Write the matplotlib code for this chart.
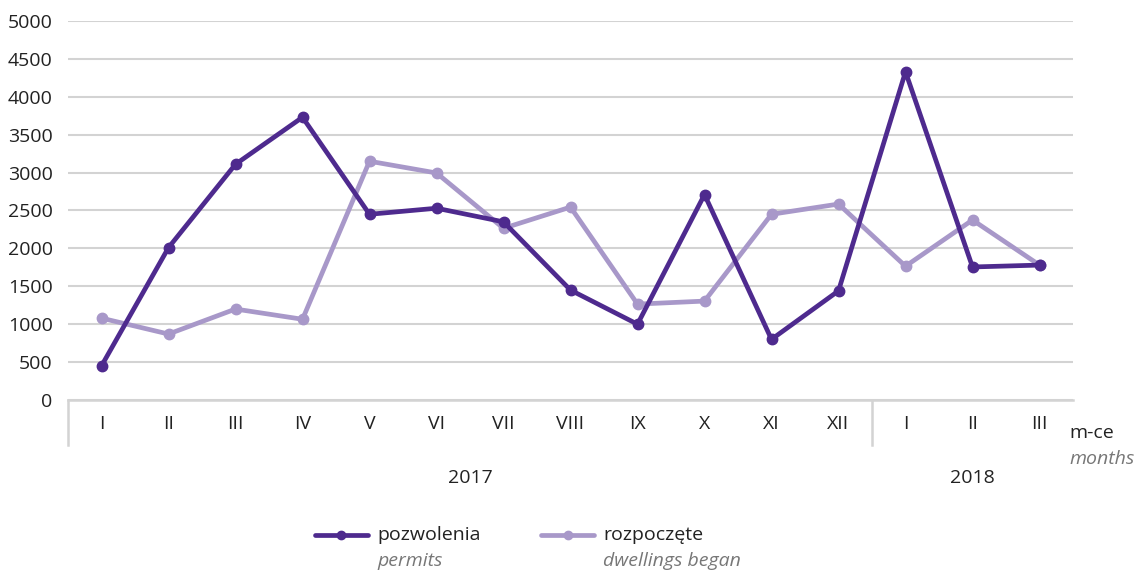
import numpy as np
import matplotlib.pyplot as plt

plt.rcParams['font.family'] = ['Open Sans', 'DejaVu Sans']

months = ['I', 'II', 'III', 'IV', 'V', 'VI', 'VII', 'VIII', 'IX', 'X', 'XI', 'XII',
          'I', 'II', 'III']
years = ['2017', '2018']
year_counts = [12, 3]
permits = [450, 2010, 3110, 3730, 2450, 2530, 2350, 1450, 1000, 2710, 800, 1440,
           4330, 1755, 1780]
began = [1080, 870, 1200, 1065, 3150, 2995, 2265, 2545, 1265, 1305, 2450, 2585,
         1765, 2375, 1780]

dark = '#4E2A8E'
light = '#A898C9'
grid = '#D3D3D3'
fs = 14

fig = plt.figure(figsize=(11.44, 5.72), dpi=100)
ax = fig.add_axes([68 / 1144, 1 - 400 / 572, (1073 - 68) / 1144, (400 - 21) / 572])

x = np.arange(len(months))
ax.plot(x, began, color=light, lw=3.4, marker='o', ms=7.5, zorder=3,
        solid_capstyle='round')
ax.plot(x, permits, color=dark, lw=3.4, marker='o', ms=7.5, zorder=4,
        solid_capstyle='round')

ax.set_xlim(-0.5, len(months) - 0.5)
ax.set_ylim(0, 5000)
ax.set_yticks(range(0, 5001, 500))
ax.yaxis.grid(True, color=grid, lw=1.5)
ax.set_axisbelow(True)
for s in ['top', 'right', 'left']:
    ax.spines[s].set_visible(False)
ax.spines['bottom'].set_color(grid)
ax.spines['bottom'].set_linewidth(1.8)
ax.tick_params(axis='y', length=0, labelsize=fs, pad=11, labelcolor='#222222')
ax.set_xticks(x)
ax.set_xticklabels(months, fontsize=fs, color='#222222')
ax.tick_params(axis='x', length=0, pad=11)

# separators under the axis
trans = ax.get_xaxis_transform()
bounds = [-0.5, year_counts[0] - 0.5]
for b in bounds:
    ax.plot([b, b], [0, -0.12], transform=trans, color=grid, lw=1.8,
            clip_on=False)

start = 0
for yr, n in zip(years, year_counts):
    ax.text(start + (n - 1) / 2, -0.205, yr, transform=trans, ha='center',
            va='center', fontsize=fs, color='#222222')
    start += n

fig.text(1069 / 1144, 1 - 433 / 572, 'm-ce', fontsize=fs, color='#222222',
         ha='left', va='center')
fig.text(1069 / 1144, 1 - 459 / 572, 'months', fontsize=fs, color='#777777',
         style='italic', ha='left', va='center')

# legend
for x0, col, t1, t2 in [(315, dark, 'pozwolenia', 'permits'),
                        (541, light, 'rozpoczęte', 'dwellings began')]:
    fig.add_artist(plt.Line2D([x0 / 1144, (x0 + 53) / 1144],
                              [1 - 535 / 572] * 2, color=col, lw=3.4,
                              solid_capstyle='round'))
    fig.add_artist(plt.Line2D([(x0 + 26.5) / 1144], [1 - 535 / 572],
                              color=col, marker='o', ms=6))
    fig.text((x0 + 62) / 1144, 1 - 535 / 572, t1, fontsize=fs,
             color='#222222', ha='left', va='center')
    fig.text((x0 + 62) / 1144, 1 - 561 / 572, t2, fontsize=fs,
             color='#777777', style='italic', ha='left', va='center')

fig.savefig('out.png', dpi=100)
